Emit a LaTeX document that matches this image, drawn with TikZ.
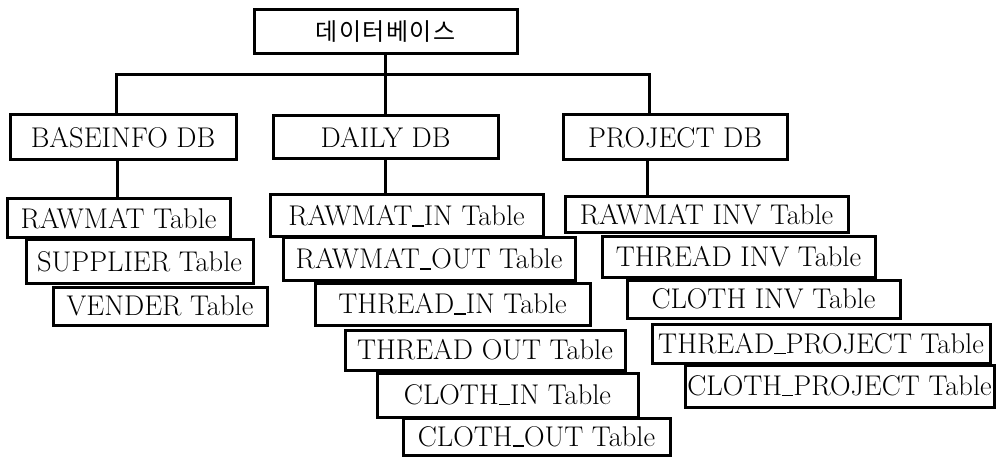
\documentclass[tikz,border=0pt]{standalone}
\usepackage{fontspec}
\newfontfamily\kofont[LetterSpace=6]{Noto Sans CJK KR}
\newcommand\us{\rule[-0.03em]{0.4em}{0.05em}}
\tikzset{
  tbox/.style={draw=black, fill=white, line width=3pt, inner sep=0pt,
    font=\fontsize{28.5}{33}\selectfont},
  link/.style={draw=black, line width=3pt}
}
% #1 name, #2 x1, #3 y1, #4 x2, #5 y2, #6 text
\newcommand\tabbox[6]{%
  \node[tbox, minimum width={(#4-#2)*1pt}, minimum height={(#5-#3)*1pt}]
    (#1) at ({(#2+#4)/2},{-(#3+#5)/2}) {#6};}
\begin{document}
\begin{tikzpicture}[x=1pt,y=1pt]
\useasboundingbox[fill=white] (0,0) rectangle (996,-457);
% level 0 and 1
\tabbox{top}{254}{10}{517}{54}{\kofont\fontsize{24}{28}\selectfont 데이터베이스}
\tabbox{base}{10}{115}{236}{160}{BASEINFO DB}
\tabbox{daily}{273}{116}{498}{159}{DAILY DB}
\tabbox{proj}{563}{115}{787}{160}{PROJECT DB}
\coordinate (busL) at (116,-75);
\coordinate (busR) at (649,-75);
\coordinate (dropB) at (117,0);
\coordinate (dropD) at (385,0);
\coordinate (dropP) at (647,0);
% baseinfo tables
\tabbox{b1}{7}{199}{230}{238}{RAWMAT Table}
\tabbox{b2}{26}{240}{253}{283}{SUPPLIER Table}
\tabbox{b3}{53}{287}{267}{325}{VENDER Table}
% daily tables
\tabbox{d1}{270}{195}{543}{237}{RAWMAT\us IN Table}
\tabbox{d2}{283}{238}{575}{280}{RAWMAT\us OUT Table}
\tabbox{d3}{315}{283}{590}{325}{THREAD\us IN Table}
\tabbox{d4}{345}{330}{625}{370}{THREAD OUT Table}
\tabbox{d5}{377}{373}{638}{417}{CLOTH\us IN Table}
\tabbox{d6}{403}{418}{670}{455}{CLOTH\us OUT Table}
% project tables
\tabbox{p1}{565}{197}{848}{233}{RAWMAT INV Table}
\tabbox{p2}{602}{237}{875}{277}{THREAD INV Table}
\tabbox{p3}{627}{280}{900}{318}{CLOTH INV Table}
\tabbox{p4}{652}{324}{990}{363}{THREAD\us PROJECT Table}
\tabbox{p5}{685}{365}{994}{407}{CLOTH\us PROJECT Table}
% connectors
\draw[link] (top.south) -- (daily.north);
\draw[link] (busL |- base.north) -- (busL) -- (busR) -- (busR |- proj.north);
\draw[link] (dropB |- base.south) -- (dropB |- b1.north);
\draw[link] (dropD |- daily.south) -- (dropD |- d1.north);
\draw[link] (dropP |- proj.south) -- (dropP |- p1.north);
\end{tikzpicture}
\end{document}
